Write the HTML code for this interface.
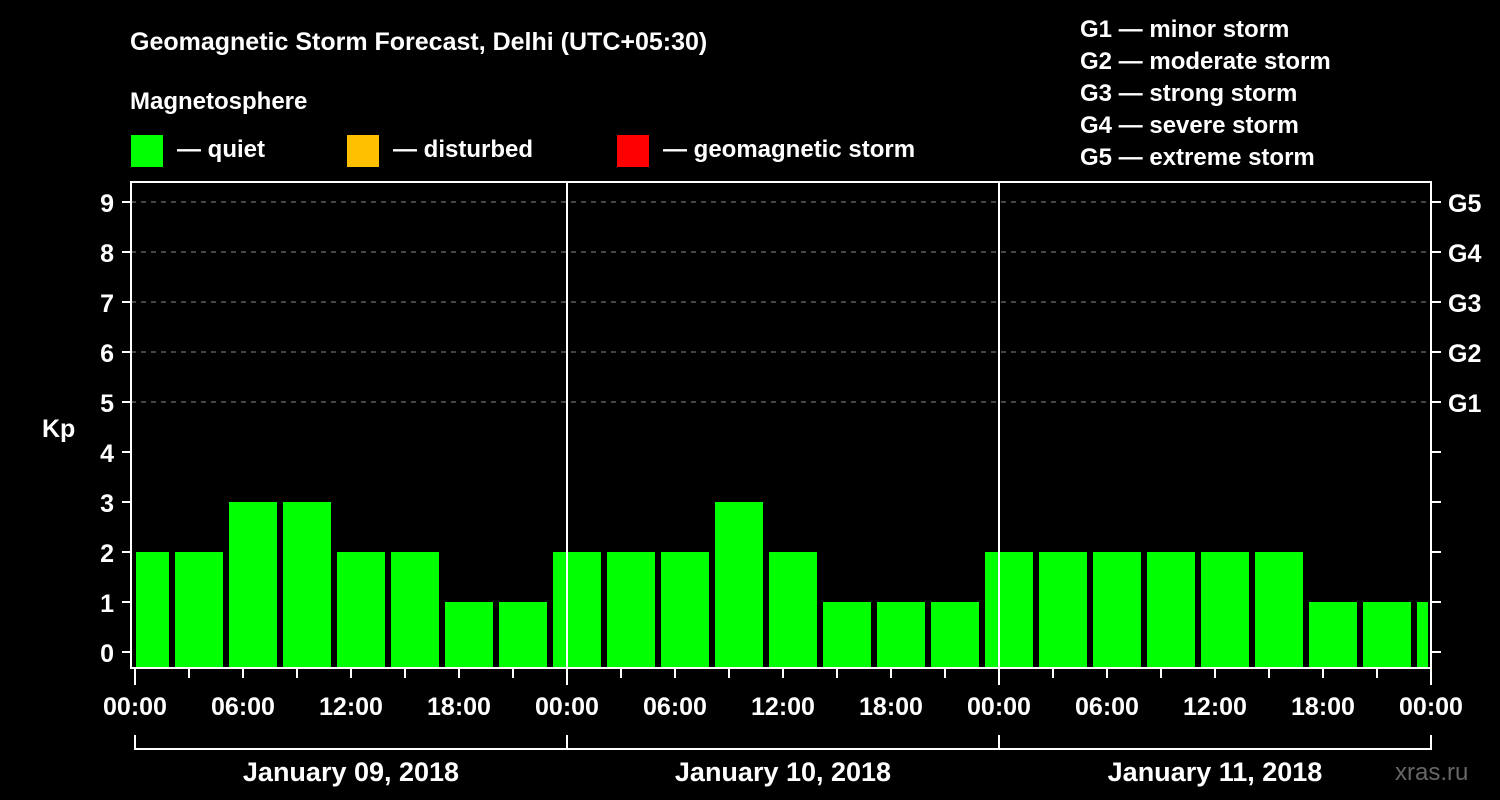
<!DOCTYPE html>
<html><head><meta charset="utf-8"><style>
html,body{margin:0;padding:0;background:#000;}
svg{display:block;font-family:"Liberation Sans",Arial,sans-serif;font-weight:bold;}
</style></head><body>
<svg id="chart" width="1500" height="800" viewBox="0 0 1500 800">
<rect width="1500" height="800" fill="#000"/>
<text x="130" y="50" fill="#fff" font-size="25">Geomagnetic Storm Forecast, Delhi (UTC+05:30)</text>
<text x="130" y="109" fill="#fff" font-size="24">Magnetosphere</text>
<g><rect x="131" y="135" width="32" height="32" fill="#00ff00"/><text x="177" y="157" fill="#fff" font-size="24">— quiet</text></g>
<g><rect x="347" y="135" width="32" height="32" fill="#ffc000"/><text x="393" y="157" fill="#fff" font-size="24">— disturbed</text></g>
<g><rect x="617" y="135" width="32" height="32" fill="#ff0000"/><text x="663" y="157" fill="#fff" font-size="24">— geomagnetic storm</text></g>
<g fill="#fff" font-size="24">
<text x="1080" y="37">G1 — minor storm</text>
<text x="1080" y="69">G2 — moderate storm</text>
<text x="1080" y="101">G3 — strong storm</text>
<text x="1080" y="133">G4 — severe storm</text>
<text x="1080" y="165">G5 — extreme storm</text>
</g>
<text x="42" y="437" fill="#fff" font-size="25">Kp</text>
<text x="1395" y="780" fill="#666" font-size="24" font-weight="normal">xras.ru</text>
<g id="grid"></g><g id="bars"></g><g id="axes"></g>
</svg>
<script>
const kpValues=[2,2,3,3,2,2,1,1, 2,2,2,3,2,1,1,1, 2,2,2,2,2,2,1,1,1];
const yTicks=[0,1,2,3,4,5,6,7,8,9];
const gLabels=["G1","G2","G3","G4","G5"];
const gLevels=[5,6,7,8,9];
const xTickLabels=["00:00","06:00","12:00","18:00","00:00","06:00","12:00","18:00","00:00","06:00","12:00","18:00","00:00"];
const dayLabels=["January 09, 2018","January 10, 2018","January 11, 2018"];
const slotOffsetHours=-5/6; // first slot starts before 00:00 local
const NS="http://www.w3.org/2000/svg";
const L=131,R=1431,T=182,B=668,X0=135,PXH=18;
const y=v=>652-50*v;
const x=h=>X0+h*PXH;
function mk(tag,attrs,parent,text){const e=document.createElementNS(NS,tag);for(const k in attrs)e.setAttribute(k,attrs[k]);if(text!==undefined)e.textContent=text;parent.appendChild(e);return e;}
const grid=document.getElementById('grid'),bars=document.getElementById('bars'),axes=document.getElementById('axes');
gLevels.forEach((g,i)=>{
 const l=mk('line',{x1:L,x2:R,y1:y(g),y2:y(g),stroke:'#888','stroke-dasharray':'5,5','stroke-width':1},grid);
 
 
 const t=mk('text',{x:1448,y:y(g)+10,fill:'#fff','font-size':25},axes,gLabels[i]);
 
 
});
kpValues.forEach((v,i)=>{
 let a=x(slotOffsetHours+i*3)+1, b=a+48;
 a=Math.max(a,136); b=Math.min(b,1428);
 const col=v>=5?'#ff0000':(v>=4?'#ffc000':'#00ff00');
 const r=mk('rect',{x:a,y:y(v),width:b-a,height:B-y(v),fill:col},bars);
 
 
});
[1,2].forEach(d=>{const l=mk('line',{x1:x(24*d),x2:x(24*d),y1:T,y2:B,stroke:'#fff','stroke-width':2},axes);
 
 });
const f=mk('rect',{x:L,y:T,width:R-L,height:B-T,fill:'none',stroke:'#fff','stroke-width':2},axes);


yTicks.forEach(v=>{
 mk('line',{x1:122,x2:L,y1:y(v),y2:y(v),stroke:'#fff','stroke-width':2},axes);
 mk('line',{x1:R,x2:1441,y1:y(v),y2:y(v),stroke:'#fff','stroke-width':2},axes);
 const t=mk('text',{x:114,y:y(v)+10,fill:'#fff','font-size':25,'text-anchor':'end'},axes,String(v));
 
 
});
for(let h=0;h<=72;h+=3){mk('line',{x1:x(h),x2:x(h),y1:B,y2:h%24==0?685:678,stroke:'#fff','stroke-width':2},axes);}
xTickLabels.forEach((s,i)=>{
 const t=mk('text',{x:x(i*6),y:715,fill:'#fff','font-size':25,'text-anchor':'middle'},axes,s);
 
 
});
mk('path',{d:`M${x(0)},735V749H${x(72)}V735`,fill:'none',stroke:'#fff','stroke-width':2},axes);
[1,2].forEach(d=>mk('line',{x1:x(24*d),x2:x(24*d),y1:735,y2:749,stroke:'#fff','stroke-width':2},axes));
dayLabels.forEach((s,i)=>{
 const t=mk('text',{x:x(24*i+12),y:781,fill:'#fff','font-size':27,'text-anchor':'middle'},axes,s);
 
 
});
</script>
</body></html>
